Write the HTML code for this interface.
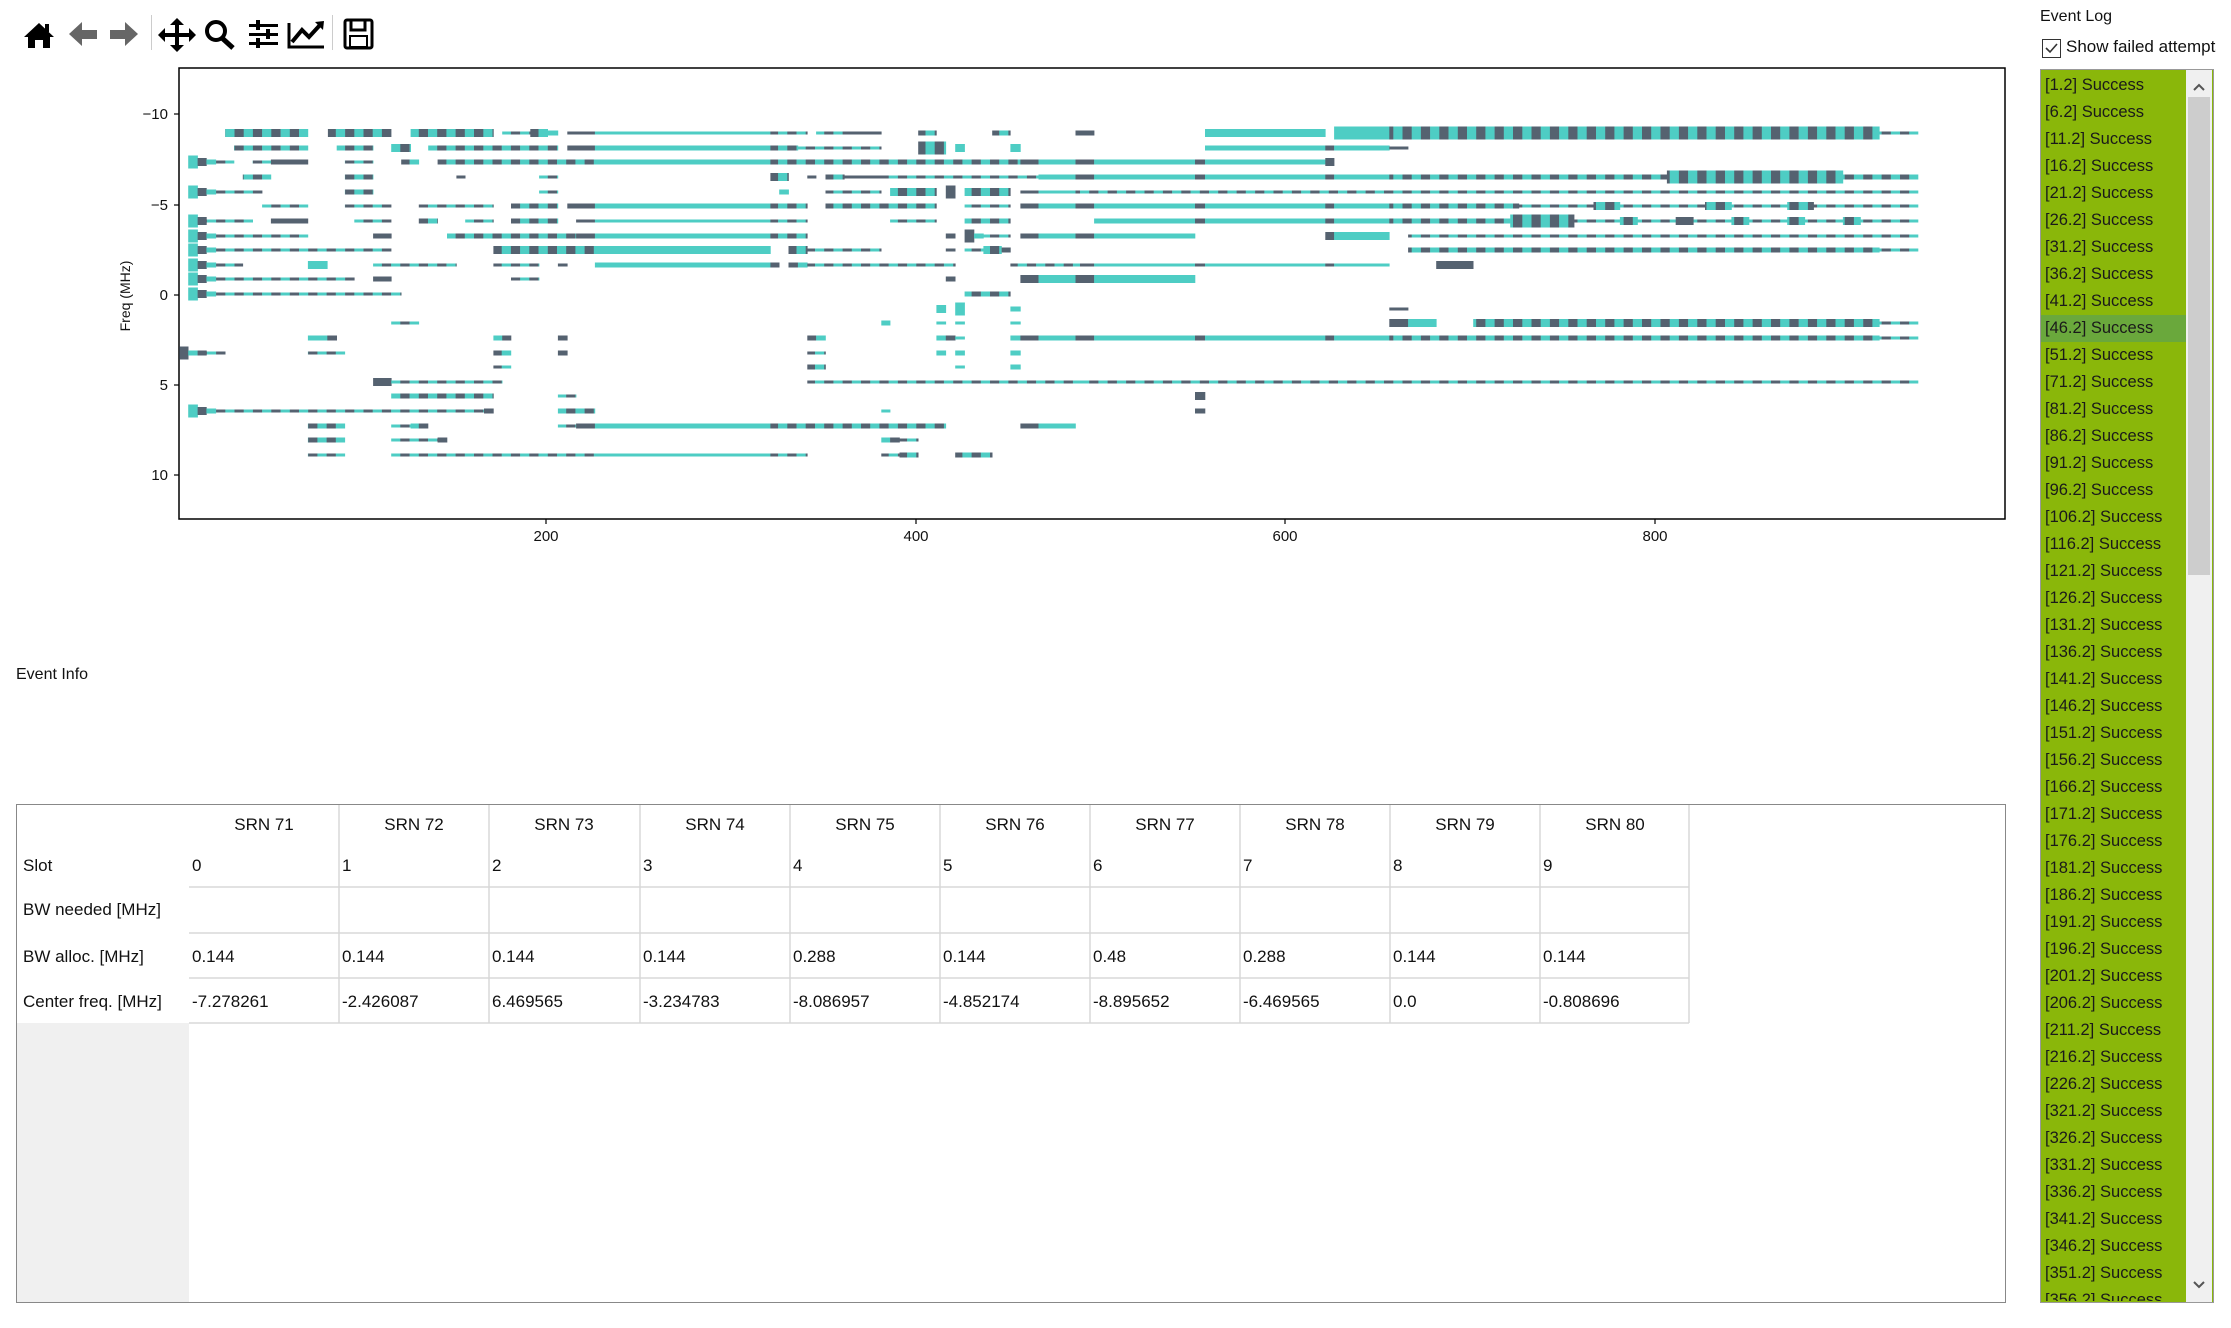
<!DOCTYPE html>
<html><head><meta charset="utf-8">
<style>
html,body{margin:0;padding:0;background:#fff;}
body{width:2231px;height:1328px;position:relative;overflow:hidden;font-family:"Liberation Sans","DejaVu Sans",sans-serif;color:#111;}
.abs{position:absolute;}
.cell{position:absolute;font-size:17px;line-height:20px;white-space:nowrap;}
.li{position:absolute;left:2045px;font-size:16.5px;color:#1a1a1a;height:27px;line-height:27px;}
</style></head><body>

<svg class="abs" style="left:0;top:0" width="400" height="60">
 <g fill="#000">
  <polygon points="24,37 39,23 54,37 50,37 50,48 43,48 43,40 35,40 35,48 28,48 28,37"/>
  <rect x="45" y="24" width="4" height="8"/>
 </g>
 <g fill="#666">
  <polygon points="69,34 82,22 82,30 97,30 97,39 82,39 82,46"/>
  <polygon points="138,34 125,22 125,30 110,30 110,39 125,39 125,46"/>
 </g>
 <rect x="151" y="15" width="1" height="35" fill="#ccc"/>
 <rect x="332" y="15" width="1" height="35" fill="#ccc"/>
 <g fill="#000">
  <rect x="175" y="22" width="4" height="26"/><rect x="161" y="33" width="32" height="4"/>
  <polygon points="177,18 170,25 184,25"/><polygon points="177,52 170,45 184,45"/>
  <polygon points="158,35 165,28 165,42"/><polygon points="196,35 189,28 189,42"/>
 </g>
 <circle cx="216" cy="31" r="9" fill="none" stroke="#000" stroke-width="4"/>
 <line x1="222" y1="38" x2="233" y2="48" stroke="#000" stroke-width="5"/>
 <g fill="#000">
  <rect x="249" y="24" width="29" height="3"/><rect x="249" y="33" width="29" height="3"/><rect x="249" y="42" width="29" height="3"/>
  <rect x="256" y="20" width="4" height="10"/><rect x="266" y="29" width="4" height="10"/><rect x="256" y="38" width="4" height="10"/>
 </g>
 <polyline points="289,23 289,47 324,47" fill="none" stroke="#000" stroke-width="3"/>
 <polyline points="292,42 302,30 309,37 320,25" fill="none" stroke="#000" stroke-width="4"/>
 <polygon points="315,22 324,21 323,30" fill="#000"/>
 <rect x="345" y="20" width="27" height="28" rx="2" fill="none" stroke="#000" stroke-width="3"/>
 <rect x="351" y="20" width="14" height="10" fill="none" stroke="#000" stroke-width="3"/>
 <rect x="350" y="36" width="17" height="11" fill="none" stroke="#000" stroke-width="2"/>
</svg>

<svg id="plot" class="abs" style="left:0;top:0" width="2030" height="560">
 <rect x="179" y="68" width="1826" height="451" fill="none" stroke="#000" stroke-width="1.5"/>
 <g id="bars"></g>
 <g stroke="#000" stroke-width="1.2">
  <line x1="174" y1="114" x2="179" y2="114"/><line x1="174" y1="205" x2="179" y2="205"/>
  <line x1="174" y1="295" x2="179" y2="295"/><line x1="174" y1="385" x2="179" y2="385"/>
  <line x1="174" y1="475" x2="179" y2="475"/>
  <line x1="546" y1="519" x2="546" y2="524"/><line x1="916" y1="519" x2="916" y2="524"/>
  <line x1="1285" y1="519" x2="1285" y2="524"/><line x1="1655" y1="519" x2="1655" y2="524"/>
 </g>
 <g font-family="Liberation Sans, DejaVu Sans, sans-serif" font-size="15" fill="#111" text-anchor="end">
  <text x="168" y="119">−10</text><text x="168" y="210">−5</text><text x="168" y="300">0</text>
  <text x="168" y="390">5</text><text x="168" y="480">10</text>
 </g>
 <g font-family="Liberation Sans, DejaVu Sans, sans-serif" font-size="15" fill="#111" text-anchor="middle">
  <text x="546" y="541">200</text><text x="916" y="541">400</text><text x="1285" y="541">600</text><text x="1655" y="541">800</text>
  <text x="0" y="0" transform="translate(130,296) rotate(-90)" font-size="14">Freq (MHz)</text>
 </g>
</svg>

<div class="abs" style="left:16px;top:666px;font-size:16px;">Event Info</div>

<div class="abs" style="left:16px;top:804px;width:1988px;height:497px;border:1.5px solid #888;background:#fff;"></div>
<div class="abs" style="left:17px;top:1023px;width:172px;height:279px;background:#f0f0f0;"></div>
<svg class="abs" style="left:0;top:0" width="1700" height="1030">
 <g stroke="#d8d8d8" stroke-width="1.5">
  <line x1="189" y1="887" x2="1689" y2="887"/><line x1="189" y1="933" x2="1689" y2="933"/>
  <line x1="189" y1="978" x2="1689" y2="978"/><line x1="189" y1="1023" x2="1689" y2="1023"/>
  <line x1="339" y1="805" x2="339" y2="1023"/><line x1="489" y1="805" x2="489" y2="1023"/>
  <line x1="640" y1="805" x2="640" y2="1023"/><line x1="790" y1="805" x2="790" y2="1023"/>
  <line x1="940" y1="805" x2="940" y2="1023"/><line x1="1090" y1="805" x2="1090" y2="1023"/>
  <line x1="1240" y1="805" x2="1240" y2="1023"/><line x1="1390" y1="805" x2="1390" y2="1023"/>
  <line x1="1540" y1="805" x2="1540" y2="1023"/><line x1="1689" y1="805" x2="1689" y2="1023"/>
 </g>
</svg>
<div id="tbl"></div>

<div class="abs" style="left:2040px;top:8px;font-size:16px;">Event Log</div>
<div class="abs" style="left:2042px;top:39px;width:17px;height:17px;border:1px solid #333;background:#fff;"></div>
<svg class="abs" style="left:2042px;top:39px" width="19" height="19"><polyline points="4,9 8,13 15,5" fill="none" stroke="#333" stroke-width="1.6"/></svg>
<div class="abs" style="left:2066px;top:37px;width:150px;overflow:hidden;white-space:nowrap;font-size:17px;">Show failed attempts</div>
<div class="abs" style="left:2040px;top:69px;width:172px;height:1232px;border:1px solid #999;background:#8ab70a;overflow:hidden;"></div>
<div class="abs" style="left:2041px;top:315px;width:145px;height:27px;background:#6aa83c;"></div>
<div class="abs" style="left:2186px;top:70px;width:26px;height:1232px;background:#f0f0f0;"></div>
<div class="abs" style="left:2188px;top:97px;width:22px;height:478px;background:#cdcdcd;"></div>
<svg class="abs" style="left:2186px;top:70px" width="26" height="1232">
 <polyline points="8,20 13,15 18,20" fill="none" stroke="#555" stroke-width="2"/>
 <polyline points="8,1212 13,1217 18,1212" fill="none" stroke="#555" stroke-width="2"/>
</svg>
<div id="log" class="abs" style="left:0;top:0;width:2186px;height:1301px;overflow:hidden;"></div>

<script>
(function(){
var H={n:3,m:5,k:8,v:13};
var T="#4ecdc4",S="#556270";
var rows=[
[133,[[94,235,'k','a'],[269,377,'k','a'],[410,551,'k','a'],[566,614,'n','a'],[614,644,'k','a'],[644,661,'m','t'],[677,724,'n','s'],[724,1023,'n','t'],[1023,1086,'n','a'],[1101,1149,'n','a'],[1149,1212,'n','s'],[1275,1306,'m','a'],[1401,1432,'m','a'],[1543,1568,'m','s']],
 [[0,24,'m','s'],[213,418,'k','t'],[433,527,'v','t'],[527,1362,'v','a'],[1362,1428,'n','a']]],
[148,[[109,235,'m','a'],[284,346,'m','a'],[377,410,'k','a'],[440,661,'m','a'],[677,724,'m','s'],[724,1023,'m','t'],[1023,1070,'m','a'],[1070,1212,'n','a'],[1275,1322,'v','a'],[1338,1354,'k','t'],[1432,1449,'k','t']],
 [[213,418,'m','t'],[418,433,'m','s'],[433,527,'m','t'],[527,559,'n','s']]],
[162,[[31,47,'v','t'],[47,62,'k','s'],[62,78,'m','t'],[78,109,'n','a'],[141,172,'n','a'],[172,235,'m','s'],[298,346,'n','a'],[394,424,'m','a'],[456,724,'m','a'],[724,1023,'m','t'],[1023,1212,'m','a'],[1212,1449,'m','a'],[1449,1480,'m','s'],[1480,1543,'m','t'],[1543,1568,'m','s']],
 [[0,24,'m','s'],[24,196,'m','t'],[196,213,'m','s'],[213,418,'m','t'],[418,433,'k','s']]],
[177,[[124,172,'m','a'],[298,346,'m','a'],[488,503,'n','s'],[629,661,'n','a'],[1023,1054,'k','a'],[1086,1101,'n','s'],[1117,1149,'m','a'],[1149,1212,'n','s'],[1212,1480,'n','a'],[1480,1543,'m','t'],[1543,1568,'m','s']],
 [[0,24,'m','s'],[24,196,'m','t'],[196,213,'m','s'],[213,418,'m','t'],[418,433,'m','s'],[433,527,'m','t'],[527,1000,'m','a'],[1000,1300,'v','a'],[1300,1428,'m','a']]],
[192,[[31,47,'v','t'],[47,62,'k','s'],[62,78,'m','t'],[78,157,'n','a'],[298,346,'m','a'],[629,661,'n','a'],[1038,1054,'m','t'],[1117,1212,'n','a'],[1227,1306,'k','a'],[1322,1338,'v','s'],[1354,1432,'k','a'],[1449,1480,'n','s'],[1480,1543,'n','t'],[1543,1568,'n','s']],
 [[0,1428,'n','a']]],
[206,[[157,235,'n','a'],[298,377,'n','a'],[424,551,'n','a'],[581,661,'m','a'],[677,724,'m','s'],[724,1023,'m','t'],[1023,1086,'m','a'],[1117,1306,'m','a'],[1354,1432,'n','a'],[1449,1480,'m','s'],[1480,1543,'m','t'],[1543,1568,'m','s']],
 [[0,24,'m','s'],[24,196,'m','t'],[196,213,'m','s'],[213,418,'m','t'],[418,433,'m','s'],[433,527,'m','t'],[527,748,'m','a'],[748,1428,'n','a'],[875,920,'k','a'],[1065,1110,'k','a'],[1205,1250,'k','a']]],
[221,[[31,47,'v','t'],[47,62,'k','s'],[62,141,'n','a'],[172,235,'m','s'],[314,377,'n','a'],[424,456,'m','a'],[503,551,'n','a'],[581,661,'m','a'],[692,724,'n','s'],[724,1023,'n','t'],[1023,1086,'n','a'],[1227,1306,'n','a'],[1354,1432,'m','a']],
 [[24,196,'m','t'],[196,213,'m','s'],[213,418,'m','t'],[418,433,'m','s'],[433,527,'m','t'],[527,733,'m','a'],[733,842,'v','a'],[842,1428,'n','a'],[920,950,'k','a'],[1015,1045,'k','s'],[1110,1140,'k','a'],[1205,1235,'k','a'],[1300,1330,'k','a']]],
[236,[[31,47,'v','t'],[47,62,'k','s'],[62,78,'m','t'],[78,235,'n','a'],[346,377,'m','s'],[472,692,'m','a'],[692,724,'m','s'],[724,1023,'m','t'],[1023,1086,'m','a'],[1322,1338,'m','s'],[1354,1370,'v','s'],[1370,1386,'m','t'],[1386,1432,'n','a'],[1449,1480,'m','s'],[1480,1543,'m','t'],[1543,1568,'m','s']],
 [[0,24,'m','s'],[24,196,'m','t'],[418,433,'k','s'],[433,527,'k','t'],[559,1428,'n','a']]],
[250,[[31,47,'v','t'],[47,62,'k','s'],[62,78,'m','t'],[78,377,'n','a'],[551,724,'k','a'],[724,1023,'k','t'],[1054,1086,'k','a'],[1086,1212,'n','a'],[1322,1338,'n','s'],[1354,1386,'n','a'],[1386,1417,'k','a'],[1417,1432,'m','s']],
 [[559,1362,'m','a'],[1362,1428,'n','a']]],
[265,[[31,47,'v','t'],[47,62,'k','s'],[62,78,'m','t'],[78,124,'n','a'],[235,268,'k','t'],[346,488,'n','a'],[551,629,'n','a'],[661,677,'n','s'],[724,1023,'m','t'],[1023,1038,'m','s'],[1054,1070,'m','s'],[1070,1086,'m','t'],[1086,1338,'n','a'],[1432,1568,'n','a']],
 [[0,24,'n','s'],[24,196,'n','t'],[196,213,'n','s'],[213,418,'n','t'],[418,433,'n','s'],[433,527,'n','t'],[607,670,'k','s']]],
[279,[[31,47,'v','t'],[47,62,'k','s'],[62,78,'m','t'],[78,314,'n','a'],[346,377,'m','s'],[581,629,'n','a'],[1322,1338,'m','s'],[1449,1480,'k','s'],[1480,1543,'k','t'],[1543,1568,'k','s']],
 [[0,24,'k','s'],[24,196,'k','t']]],
[294,[[31,47,'v','t'],[47,62,'k','s'],[62,78,'m','t'],[78,394,'n','a'],[1354,1432,'m','a']],[]],
[309,[[1306,1322,'k','t'],[1338,1354,'v','t'],[1432,1449,'m','t']],[[527,559,'n','s']]],
[323,[[377,424,'n','a'],[1212,1227,'m','t'],[1306,1322,'n','t'],[1338,1354,'n','t'],[1432,1449,'n','t']],
 [[527,559,'k','s'],[559,607,'k','t'],[670,1362,'k','a'],[1362,1428,'n','a']]],
[338,[[235,268,'m','t'],[268,284,'m','s'],[551,566,'m','t'],[566,581,'m','s'],[661,677,'m','s'],[1086,1101,'m','s'],[1101,1117,'m','t'],[1306,1322,'m','t'],[1322,1338,'m','s'],[1338,1354,'n','t'],[1432,1449,'m','t'],[1449,1480,'m','s'],[1480,1543,'m','t'],[1543,1568,'m','s']],
 [[0,24,'m','s'],[24,196,'m','t'],[196,213,'m','s'],[213,418,'m','t'],[418,433,'m','s'],[433,527,'m','t'],[527,1362,'m','a'],[1362,1428,'n','a']]],
[353,[[16,31,'v','s'],[31,47,'m','t'],[47,62,'m','s'],[62,94,'n','a'],[235,298,'n','a'],[551,581,'m','a'],[661,677,'m','s'],[1086,1117,'n','a'],[1306,1322,'m','t'],[1338,1354,'m','t'],[1432,1449,'m','t']],[]],
[367,[[551,581,'n','a'],[1086,1117,'m','a'],[1338,1354,'n','t'],[1432,1449,'m','t']],[]],
[382,[[346,377,'k','s'],[377,566,'n','a'],[1086,1568,'n','a']],[[0,1428,'n','a']]],
[396,[[377,551,'m','a'],[661,692,'n','a']],[[196,213,'k','s']]],
[411,[[31,47,'v','t'],[47,62,'k','s'],[62,78,'m','t'],[78,535,'n','a'],[535,551,'m','s'],[661,724,'m','a'],[1212,1227,'n','t']],[[196,213,'m','s']]],
[426,[[235,298,'m','a'],[377,410,'n','a'],[410,440,'m','a'],[661,692,'n','a'],[692,724,'m','s'],[724,1023,'m','t'],[1023,1322,'m','a'],[1449,1480,'m','s'],[1480,1543,'m','t']],[]],
[440,[[235,298,'m','a'],[377,456,'n','a'],[456,472,'m','s'],[1212,1227,'m','t'],[1227,1243,'m','s'],[1243,1275,'n','a']],[]],
[455,[[235,298,'n','a'],[377,724,'n','a'],[724,1023,'n','t'],[1023,1086,'n','a'],[1212,1243,'n','a'],[1243,1275,'m','a'],[1338,1401,'m','a']],[]]
];
var out=[];
function seg(x0,x1,h,c,y,off){
  var hh=H[h];
  if(c==='a'){
    var st=15.7;
    var s=Math.floor(x0/st+0.01);
    var x=x0;
    while(x<x1-0.5){
      var e=Math.min(x1,(s+1)*st);
      var col=(s%2===0)?T:S;
      out.push('<rect x="'+(off+x/1.704).toFixed(1)+'" y="'+(y-hh/2).toFixed(1)+'" width="'+((e-x)/1.704+0.3).toFixed(1)+'" height="'+hh+'" fill="'+col+'"/>');
      x=e;s++;
    }
  } else {
    out.push('<rect x="'+(off+x0/1.704).toFixed(1)+'" y="'+(y-hh/2).toFixed(1)+'" width="'+((x1-x0)/1.704+0.3).toFixed(1)+'" height="'+hh+'" fill="'+(c==='t'?T:S)+'"/>');
  }
}
rows.forEach(function(r){
  r[1].forEach(function(s){seg(s[0],s[1],s[2],s[3],r[0],170);});
  r[2].forEach(function(s){seg(s[0],s[1],s[2],s[3],r[0],1080);});
});
document.getElementById('bars').innerHTML=out.join('');

var t=[];
var cols=[189,339,489,640,790,940,1090,1240,1390,1540];
var cf=["-7.278261","-2.426087","6.469565","-3.234783","-8.086957","-4.852174","-8.895652","-6.469565","0.0","-0.808696"];
var ba=["0.144","0.144","0.144","0.144","0.288","0.144","0.48","0.288","0.144","0.144"];
for(var i=0;i<10;i++){
  var x=cols[i];
  t.push('<div class="cell" style="left:'+x+'px;width:150px;text-align:center;top:815px">SRN '+(71+i)+'</div>');
  t.push('<div class="cell" style="left:'+(x+3)+'px;top:856px">'+i+'</div>');
  t.push('<div class="cell" style="left:'+(x+3)+'px;top:947px">'+ba[i]+'</div>');
  t.push('<div class="cell" style="left:'+(x+3)+'px;top:992px">'+cf[i]+'</div>');
}
var lab=[["Slot",856],["BW needed [MHz]",900],["BW alloc. [MHz]",947],["Center freq. [MHz]",992]];
lab.forEach(function(l){t.push('<div class="cell" style="left:23px;top:'+l[1]+'px">'+l[0]+'</div>');});
document.getElementById('tbl').innerHTML=t.join('');

var ids=[1.2,6.2,11.2,16.2,21.2,26.2,31.2,36.2,41.2,46.2,51.2,71.2,81.2,86.2,91.2,96.2,106.2,116.2,121.2,126.2,131.2,136.2,141.2,146.2,151.2,156.2,166.2,171.2,176.2,181.2,186.2,191.2,196.2,201.2,206.2,211.2,216.2,226.2,321.2,326.2,331.2,336.2,341.2,346.2,351.2,356.2];
var L=[];
ids.forEach(function(v,i){L.push('<div class="li" style="top:'+(72+i*27)+'px">['+v+'] Success</div>');});
document.getElementById('log').innerHTML=L.join('');
})();
</script>
</body></html>
